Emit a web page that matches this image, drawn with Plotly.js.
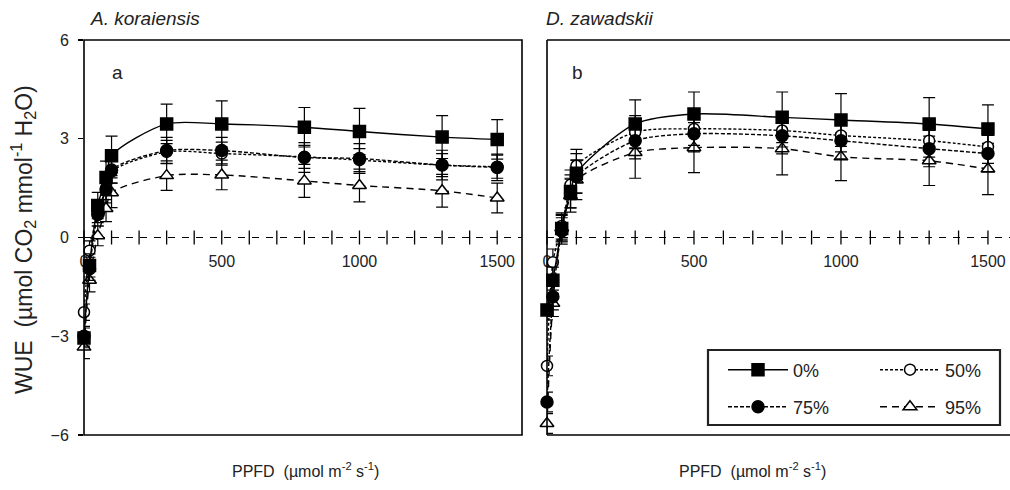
<!DOCTYPE html>
<html>
<head>
<meta charset="utf-8">
<script src="https://cdn.plot.ly/plotly-3.0.1.min.js"></script>
<style>html,body{margin:0;padding:0;background:#fff;}#chart{width:1010px;height:490px;}</style>
</head>
<body>
<div id="chart"></div>
<script>
// PPFD levels (µmol m-2 s-1)
const ppfd = [0, 20, 50, 80, 100, 300, 500, 800, 1000, 1300, 1500];
const seriesNames = ['0%', '50%', '75%', '95%'];

// A. koraiensis WUE
const ak0 = [-3.05, -0.85, 0.97, 1.82, 2.48, 3.45, 3.45, 3.35, 3.22, 3.05, 2.98];
const ak0Err = [0.3, 0.35, 0.4, 0.5, 0.6, 0.6, 0.7, 0.6, 0.7, 0.65, 0.6];
const ak50 = [-2.27, -0.4, 0.75, 1.5, 2.0, 2.6, 2.55, 2.45, 2.35, 2.2, 2.15];
const ak50Err = [0.25, 0.3, 0.3, 0.35, 0.35, 0.35, 0.35, 0.35, 0.35, 0.35, 0.35];
const ak75 = [-3.0, -0.95, 0.7, 1.45, 2.05, 2.64, 2.64, 2.43, 2.4, 2.2, 2.13];
const ak75Err = [0.3, 0.35, 0.35, 0.4, 0.4, 0.4, 0.4, 0.45, 0.45, 0.45, 0.4];
const ak95 = [-3.33, -1.3, 0.05, 0.88, 1.36, 1.88, 1.9, 1.72, 1.58, 1.42, 1.2];
const ak95Err = [0.35, 0.35, 0.3, 0.4, 0.45, 0.45, 0.45, 0.5, 0.5, 0.5, 0.45];

// D. zawadskii WUE
const dz0 = [-2.2, -1.3, 0.27, 1.4, 1.95, 3.45, 3.75, 3.65, 3.57, 3.45, 3.3];
const dz0Err = [0.3, 0.4, 0.4, 0.5, 0.6, 0.73, 0.67, 0.77, 0.8, 0.8, 0.73];
const dz50 = [-3.9, -0.75, 0.35, 1.6, 2.18, 3.2, 3.3, 3.25, 3.1, 2.94, 2.75];
const dz50Err = [0.3, 0.4, 0.4, 0.45, 0.5, 0.5, 0.5, 0.5, 0.5, 0.5, 0.5];
const dz75 = [-5.0, -1.8, 0.2, 1.35, 1.85, 2.94, 3.15, 3.09, 2.94, 2.7, 2.55];
const dz75Err = [0.3, 0.4, 0.4, 0.45, 0.5, 0.55, 0.55, 0.55, 0.55, 0.55, 0.55];
const dz95 = [-5.65, -2.0, 0.3, 1.27, 1.75, 2.58, 2.73, 2.7, 2.45, 2.33, 2.08];
const dz95Err = [0.3, 0.4, 0.4, 0.5, 0.6, 0.78, 0.76, 0.8, 0.72, 0.75, 0.78];

// x-axis tick positions (every 100) and labels (every 500)
const xTicks = [0,100,200,300,400,500,600,700,800,900,1000,1100,1200,1300,1400,1500];
const xTickText = xTicks.map(v => (v % 500 === 0) ? String(v) : '');
const yTicks = [-6, -3, 0, 3, 6];

const W = 1010, H = 490;
const px = v => v / W;
const py = v => (H - v) / H;

const styles = {
  '0%':  {symbol: 'square', color: '#000', size: 12, dash: 'solid', legend: 'legend'},
  '50%': {symbol: 'circle', color: '#fff', size: 11, dash: '3px,2px', legend: 'legend2'},
  '75%': {symbol: 'circle', color: '#000', size: 12, dash: '4px,2px', legend: 'legend3'},
  '95%': {symbol: 'triangle-up', color: '#fff', size: 12, dash: '7px,5px', legend: 'legend4'}
};

function mk(name, y, err, xa, ya, show) {
  const s = styles[name];
  return {
    type: 'scatter', mode: 'lines+markers', name: name, x: ppfd, y: y,
    xaxis: xa, yaxis: ya, showlegend: show, legend: s.legend, cliponaxis: false,
    line: {color: '#000', width: 1.4, dash: s.dash, shape: 'spline', smoothing: 0.8},
    marker: {symbol: s.symbol, size: s.size, color: s.color, line: {color: '#000', width: 1.5}},
    error_y: {type: 'data', array: err, visible: true, color: '#000', thickness: 1.2, width: 6}
  };
}

// cross-shaped tick marks on the dashed zero line
function tickMarks(xa, ya) {
  return {
    type: 'scatter', mode: 'markers', x: xTicks, y: xTicks.map(() => 0),
    xaxis: xa, yaxis: ya, showlegend: false, hoverinfo: 'skip', cliponaxis: false,
    marker: {symbol: 'line-ns', size: 10, color: '#000', line: {color: '#000', width: 1.3}}
  };
}

const traces = [
  tickMarks('x', 'y'),
  tickMarks('x2', 'y2'),
  mk('95%', ak95, ak95Err, 'x', 'y', true),
  mk('50%', ak50, ak50Err, 'x', 'y', true),
  mk('75%', ak75, ak75Err, 'x', 'y', true),
  mk('0%', ak0, ak0Err, 'x', 'y', true),
  mk('95%', dz95, dz95Err, 'x2', 'y2', false),
  mk('50%', dz50, dz50Err, 'x2', 'y2', false),
  mk('75%', dz75, dz75Err, 'x2', 'y2', false),
  mk('0%', dz0, dz0Err, 'x2', 'y2', false)
];

const font = {family: '"Liberation Sans", Arial, sans-serif', color: '#222'};
const yDom = [py(435), py(40)];
const zeroPos = py(237.5);

function xAxis(dom, rng) {
  return {
    domain: dom, range: rng, anchor: 'free', position: zeroPos,
    tickmode: 'array', tickvals: xTicks, ticktext: xTickText, ticks: '',
    showline: false, showgrid: false, zeroline: false, layer: 'below traces',
    tickfont: Object.assign({size: 16}, font), ticklabelstandoff: 12
  };
}

function legendAt(xl, yc) {
  return {
    x: px(xl), y: py(yc), xanchor: 'left', yanchor: 'middle',
    orientation: 'v', itemwidth: 60,
    bgcolor: 'rgba(0,0,0,0)', borderwidth: 0,
    font: Object.assign({size: 18}, font), itemclick: false
  };
}

const layout = {
  width: W, height: H,
  margin: {l: 0, r: 0, t: 0, b: 0},
  paper_bgcolor: '#fff', plot_bgcolor: 'rgba(0,0,0,0)',
  font: font,
  showlegend: true,
  xaxis: xAxis([px(84), px(522)], [0, 1590]),
  xaxis2: xAxis([px(547), 1], [0, 1575]),
  yaxis: {
    domain: yDom, range: [-6, 6], anchor: 'x', tickmode: 'array', tickvals: yTicks,
    ticks: 'outside', ticklen: 5, tickwidth: 1.2, tickcolor: '#000',
    showline: false, showgrid: false, zeroline: false,
    tickfont: Object.assign({size: 16}, font), ticklabelstandoff: 6
  },
  yaxis2: {
    domain: yDom, range: [-6, 6], anchor: 'x2', showticklabels: false,
    ticks: '', showline: false, showgrid: false, zeroline: false
  },
  legend: legendAt(723, 370),
  legend2: legendAt(875, 370),
  legend3: legendAt(723, 407),
  legend4: legendAt(875, 407),
  shapes: [
    {type: 'rect', xref: 'paper', yref: 'paper', x0: px(84), x1: px(522), y0: py(435), y1: py(40), line: {color: '#000', width: 1.6}},
    {type: 'line', xref: 'paper', yref: 'paper', x0: px(547), x1: px(547), y0: py(435), y1: py(40), line: {color: '#000', width: 1.6}},
    {type: 'line', xref: 'paper', yref: 'paper', x0: px(547), x1: 1.01, y0: py(40), y1: py(40), line: {color: '#000', width: 1.6}},
    {type: 'line', xref: 'paper', yref: 'paper', x0: px(547), x1: 1.01, y0: py(435), y1: py(435), line: {color: '#000', width: 1.6}},
    {type: 'line', xref: 'x', yref: 'y', x0: 0, x1: 1590, y0: 0, y1: 0, layer: 'below', line: {color: '#000', width: 1.2, dash: '7px,7px'}},
    {type: 'line', xref: 'x2', yref: 'y2', x0: 0, x1: 1575, y0: 0, y1: 0, layer: 'below', line: {color: '#000', width: 1.2, dash: '7px,7px'}},
    {type: 'rect', xref: 'paper', yref: 'paper', x0: px(708), x1: px(1000), y0: py(425), y1: py(350), layer: 'below', fillcolor: '#fff', line: {color: '#222', width: 2.2}}
  ],
  annotations: [
    {text: '<i>A. koraiensis</i>', xref: 'paper', yref: 'paper', x: px(88), y: py(18), xanchor: 'left', yanchor: 'middle', showarrow: false, font: Object.assign({size: 19}, font)},
    {text: '<i>D. zawadskii</i>', xref: 'paper', yref: 'paper', x: px(544), y: py(18), xanchor: 'left', yanchor: 'middle', showarrow: false, font: Object.assign({size: 19}, font)},
    {text: 'a', xref: 'paper', yref: 'paper', x: px(117), y: py(72), xanchor: 'center', yanchor: 'middle', showarrow: false, font: Object.assign({size: 19}, font)},
    {text: 'b', xref: 'paper', yref: 'paper', x: px(577), y: py(72), xanchor: 'center', yanchor: 'middle', showarrow: false, font: Object.assign({size: 19}, font)},
    {text: 'PPFD  (µmol m<sup>-2</sup> s<sup>-1</sup>)', xref: 'paper', yref: 'paper', x: px(305), y: py(470), xanchor: 'center', yanchor: 'middle', showarrow: false, font: Object.assign({size: 16}, font)},
    {text: 'PPFD  (µmol m<sup>-2</sup> s<sup>-1</sup>)', xref: 'paper', yref: 'paper', x: px(752), y: py(470), xanchor: 'center', yanchor: 'middle', showarrow: false, font: Object.assign({size: 16}, font)},
    {text: 'WUE  (µmol CO<sub>2</sub> mmol<sup>-1</sup> H<sub>2</sub>O)', xref: 'paper', yref: 'paper', x: px(23), y: py(240), xanchor: 'center', yanchor: 'middle', textangle: -90, showarrow: false, font: Object.assign({size: 23}, font)}
  ]
};

Plotly.newPlot('chart', traces, layout, {staticPlot: true, displayModeBar: false});
</script>
</body>
</html>
